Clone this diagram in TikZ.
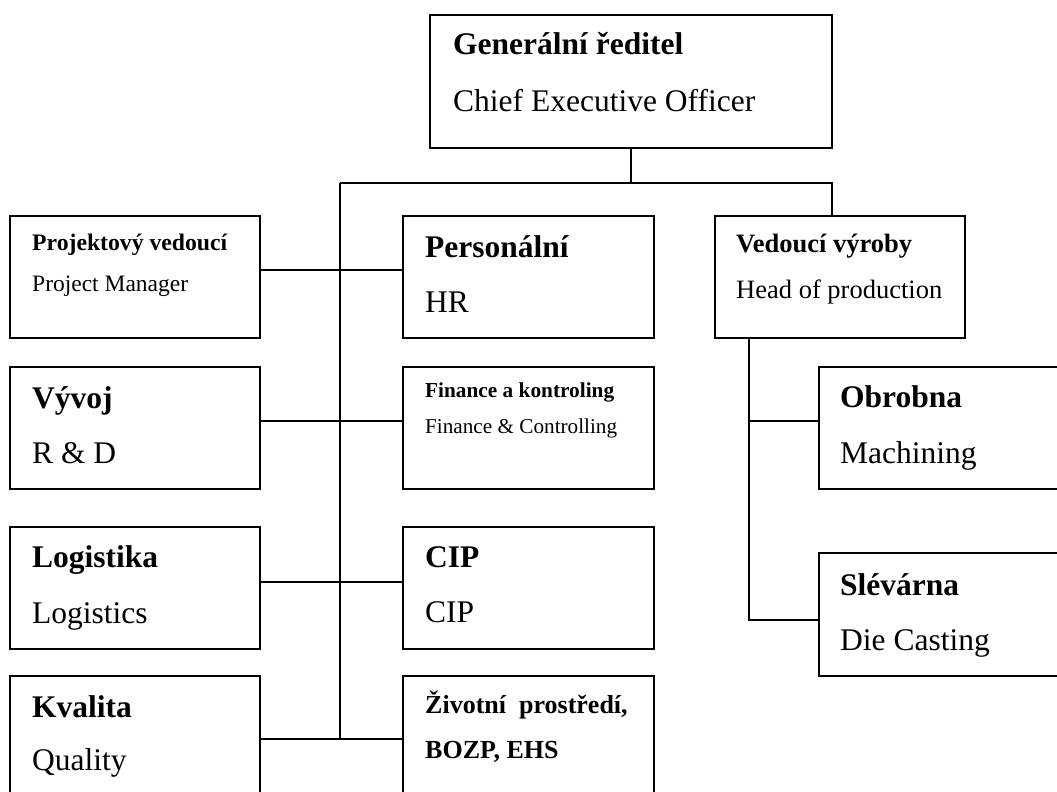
\documentclass[tikz,border=0pt]{standalone}
\usepackage{fontspec}
\setmainfont{Liberation Serif}
\usetikzlibrary{calc}
\begin{document}
\begin{tikzpicture}[x=1pt,y=-1pt,
  unit/.style={draw, line width=1.8pt, rectangle, inner sep=0pt, outer sep=0pt, anchor=north west},
  link/.style={line width=1.4pt},
  txt/.style={anchor=base west, inner sep=0pt},
  fA/.style={font=\fontsize{31.5}{36}\selectfont},
  fAb/.style={font=\fontsize{31.5}{36}\selectfont\bfseries},
  fB/.style={font=\fontsize{23.5}{28}\selectfont},
  fBb/.style={font=\fontsize{23.7}{28}\selectfont\bfseries},
  fC/.style={font=\fontsize{26.5}{30}\selectfont},
  fCb/.style={font=\fontsize{26.5}{30}\selectfont\bfseries},
  fD/.style={font=\fontsize{21.2}{26}\selectfont},
  fDb/.style={font=\fontsize{21.3}{26}\selectfont\bfseries},
  fEb/.style={font=\fontsize{26}{30}\selectfont\bfseries}]
\useasboundingbox (0,0) rectangle (1057,792);
\clip (0,0) rectangle (1057,792);

% boxes
\node[unit, minimum width=402pt, minimum height=133pt] (ceo)  at (430,15)  {};
\node[unit, minimum width=250pt, minimum height=122pt] (pm)   at (10,216)  {};
\node[unit, minimum width=251pt, minimum height=122pt] (hr)   at (403,216) {};
\node[unit, minimum width=250pt, minimum height=122pt] (prod) at (715,216) {};
\node[unit, minimum width=250pt, minimum height=122pt] (rd)   at (10,367)  {};
\node[unit, minimum width=251pt, minimum height=122pt] (fin)  at (403,367) {};
\node[unit, minimum width=251pt, minimum height=122pt] (mach) at (819,367) {};
\node[unit, minimum width=250pt, minimum height=122pt] (log)  at (10,527)  {};
\node[unit, minimum width=251pt, minimum height=122pt] (cip)  at (403,527) {};
\node[unit, minimum width=251pt, minimum height=123pt] (cast) at (819,553) {};
\node[unit, minimum width=250pt, minimum height=122pt] (qual) at (10,676)  {};
\node[unit, minimum width=251pt, minimum height=122pt] (env)  at (403,676) {};

% texts
\node[txt, fAb] (ceo1) at (453,55)  {Generální ředitel};
\node[txt, fA]  (ceo2) at (453,111) {Chief Executive Officer};
\node[txt, fBb] (pm1)  at (32,250)  {Projektový vedoucí};
\node[txt, fB]  (pm2)  at (32,291)  {Project Manager};
\node[txt, fAb] (hr1)  at (425,257) {Personální};
\node[txt, fA]  (hr2)  at (425,312) {HR};
\node[txt, fCb] (pr1)  at (736,252) {Vedoucí výroby};
\node[txt, fC]  (pr2)  at (736,298) {Head of production};
\node[txt, fAb] (rd1)  at (32,408)  {Vývoj};
\node[txt, fA]  (rd2)  at (32,463)  {R \& D};
\node[txt, fDb] (fi1)  at (425,397) {Finance a kontroling};
\node[txt, fD]  (fi2)  at (425,433) {Finance \& Controlling};
\node[txt, fAb] (ma1)  at (840,407) {Obrobna};
\node[txt, fA]  (ma2)  at (840,463) {Machining};
\node[txt, fAb] (lo1)  at (32,567)  {Logistika};
\node[txt, fA]  (lo2)  at (32,623)  {Logistics};
\node[txt, fAb] (ci1)  at (425,567) {CIP};
\node[txt, fA]  (ci2)  at (425,622) {CIP};
\node[txt, fAb] (ca1)  at (840,595) {Slévárna};
\node[txt, fA]  (ca2)  at (840,650) {Die Casting};
\node[txt, fAb] (qu1)  at (32,717)  {Kvalita};
\node[txt, fA]  (qu2)  at (32,770)  {Quality};
\node[txt, fEb] (en1)  at (425,713) {Životní\ \ prostředí,};
\node[txt, fEb] (en2)  at (425,758) {BOZP, EHS};

% connector points
\coordinate (busL)  at (340,183);
\coordinate (busR)  at (832,183);
\coordinate (r1) at (340,270);
\coordinate (r2) at (340,421);
\coordinate (r3) at (340,582);
\coordinate (r4) at (340,739);
\coordinate (p1) at (749,421);
\coordinate (p2) at (749,620);

% connectors
\draw[link] (ceo.south) -- (ceo.south |- busL);
\draw[link] (busL) -- (busR) -- (busR |- prod.north);
\draw[link] (busL) -- (r4);
\draw[link] (pm.east |- r1) -- (hr.west |- r1);
\draw[link] (rd.east |- r2) -- (fin.west |- r2);
\draw[link] (log.east |- r3) -- (cip.west |- r3);
\draw[link] (qual.east |- r4) -- (env.west |- r4);
\draw[link] (p2 |- prod.south) -- (p2) -- (cast.west |- p2);
\draw[link] (p1) -- (mach.west |- p1);
\end{tikzpicture}
\end{document}
